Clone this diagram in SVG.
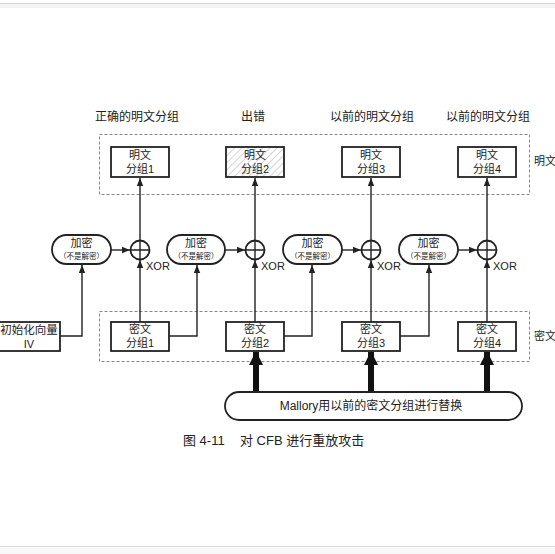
<svg xmlns="http://www.w3.org/2000/svg" width="555" height="554" viewBox="0 0 555 554">
<defs>
<style>
text{font-family:"Liberation Sans","Noto Sans CJK SC",sans-serif;fill:#222;}
.lbl{font-size:12px;text-anchor:middle;}
.box{fill:#fff;stroke:#222;stroke-width:1.8;}
.dash{fill:none;stroke:#888;stroke-width:1;stroke-dasharray:3,2;}
.ln{fill:none;stroke:#222;stroke-width:1.4;}
.bt{font-size:11px;text-anchor:middle;}
.sm{font-size:7.5px;}
.xor{font-size:11px;}
</style>
<marker id="ah" markerUnits="userSpaceOnUse" markerWidth="8" markerHeight="8" viewBox="0 0 8 8" refX="8" refY="4" orient="auto">
<path d="M0,0.8 L8,4 L0,7.2 Z" fill="#222"/>
</marker>
<marker id="big" markerUnits="userSpaceOnUse" markerWidth="14" markerHeight="14" viewBox="0 0 14 14" refX="13" refY="7" orient="auto">
<path d="M0,0 L14,7 L0,14 Z" fill="#111"/>
</marker>
<pattern id="hatch" patternUnits="userSpaceOnUse" width="5" height="5" patternTransform="rotate(45)">
<rect width="5" height="5" fill="#fff"/>
<line x1="0" y1="0" x2="0" y2="5" stroke="#aaa" stroke-width="1"/>
</pattern>
</defs>
<rect x="0" y="0" width="555" height="554" fill="#fff"/>
<rect x="0" y="3" width="555" height="5" fill="#f4f4f4"/>
<line x1="0" y1="3.5" x2="555" y2="3.5" stroke="#d8d8d8" stroke-width="1"/>
<rect x="0" y="546" width="555" height="8" fill="#f8f8f8"/>
<line x1="0" y1="546.5" x2="555" y2="546.5" stroke="#ddd" stroke-width="1"/>

<g id="labels">
<text class="lbl" x="137" y="121">正确的明文分组</text>
<text class="lbl" x="253" y="121">出错</text>
<text class="lbl" x="372" y="121">以前的明文分组</text>
<text class="lbl" x="488" y="121">以前的明文分组</text>
<text x="534" y="165" style="font-size:11px">明文</text>
<text x="534" y="340" style="font-size:11px">密文</text>
</g>

<rect id="plain-area" class="dash" x="99.5" y="134.5" width="430" height="60"/>
<rect id="cipher-area" class="dash" x="99.5" y="311.5" width="430" height="50"/>

<g id="connectors">
<line class="ln" x1="140" y1="240" x2="140" y2="178" marker-end="url(#ah)"/>
<line class="ln" x1="255" y1="240" x2="255" y2="178" marker-end="url(#ah)"/>
<line class="ln" x1="371" y1="240" x2="371" y2="178" marker-end="url(#ah)"/>
<line class="ln" x1="487" y1="240" x2="487" y2="178" marker-end="url(#ah)"/>
<line class="ln" x1="140" y1="322" x2="140" y2="260" marker-end="url(#ah)"/>
<line class="ln" x1="255" y1="322" x2="255" y2="260" marker-end="url(#ah)"/>
<line class="ln" x1="371" y1="322" x2="371" y2="260" marker-end="url(#ah)"/>
<line class="ln" x1="487" y1="322" x2="487" y2="260" marker-end="url(#ah)"/>
<line class="ln" x1="111" y1="250" x2="130" y2="250" marker-end="url(#ah)"/>
<line class="ln" x1="225" y1="250" x2="245" y2="250" marker-end="url(#ah)"/>
<line class="ln" x1="342" y1="250" x2="361" y2="250" marker-end="url(#ah)"/>
<line class="ln" x1="458" y1="250" x2="477" y2="250" marker-end="url(#ah)"/>
<polyline class="ln" points="60,336 82,336 82,265" marker-end="url(#ah)"/>
<polyline class="ln" points="169,336 197,336 197,265" marker-end="url(#ah)"/>
<polyline class="ln" points="284,336 312,336 312,265" marker-end="url(#ah)"/>
<polyline class="ln" points="400,336 429,336 429,265" marker-end="url(#ah)"/>
<line x1="256" y1="392" x2="256" y2="352" stroke="#111" stroke-width="6" marker-end="url(#big)"/>
<line x1="371" y1="392" x2="371" y2="352" stroke="#111" stroke-width="6" marker-end="url(#big)"/>
<line x1="487" y1="392" x2="487" y2="352" stroke="#111" stroke-width="6" marker-end="url(#big)"/>
</g>

<g id="p1"><rect class="box" x="111" y="147" width="58" height="30"/><text class="bt"><tspan x="140" y="159">明文</tspan><tspan x="140" y="173">分组1</tspan></text></g>
<g id="p2"><rect class="box" x="226" y="147" width="58" height="30" style="fill:url(#hatch)"/><text class="bt"><tspan x="255" y="159">明文</tspan><tspan x="255" y="173">分组2</tspan></text></g>
<g id="p3"><rect class="box" x="342" y="147" width="58" height="30"/><text class="bt"><tspan x="371" y="159">明文</tspan><tspan x="371" y="173">分组3</tspan></text></g>
<g id="p4"><rect class="box" x="458" y="147" width="58" height="30"/><text class="bt"><tspan x="487" y="159">明文</tspan><tspan x="487" y="173">分组4</tspan></text></g>

<g id="e1"><rect class="box" x="52" y="235" width="59" height="29" rx="14.5"/><text class="bt"><tspan x="81.5" y="247">加密</tspan><tspan class="sm" x="81.5" y="259">（不是解密）</tspan></text></g>
<g id="e2"><rect class="box" x="167" y="235" width="58" height="29" rx="14.5"/><text class="bt"><tspan x="196" y="247">加密</tspan><tspan class="sm" x="196" y="259">（不是解密）</tspan></text></g>
<g id="e3"><rect class="box" x="283" y="235" width="59" height="29" rx="14.5"/><text class="bt"><tspan x="312.5" y="247">加密</tspan><tspan class="sm" x="312.5" y="259">（不是解密）</tspan></text></g>
<g id="e4"><rect class="box" x="399" y="235" width="59" height="29" rx="14.5"/><text class="bt"><tspan x="428.5" y="247">加密</tspan><tspan class="sm" x="428.5" y="259">（不是解密）</tspan></text></g>

<g id="x1"><circle class="box" cx="140" cy="250" r="9.5"/><path class="ln" d="M130.5,250 H149.5 M140,240.5 V259.5"/><text class="xor" x="146" y="270">XOR</text></g>
<g id="x2"><circle class="box" cx="255" cy="250" r="9.5"/><path class="ln" d="M245.5,250 H264.5 M255,240.5 V259.5"/><text class="xor" x="261" y="270">XOR</text></g>
<g id="x3"><circle class="box" cx="371" cy="250" r="9.5"/><path class="ln" d="M361.5,250 H380.5 M371,240.5 V259.5"/><text class="xor" x="377" y="270">XOR</text></g>
<g id="x4"><circle class="box" cx="487" cy="250" r="9.5"/><path class="ln" d="M477.5,250 H496.5 M487,240.5 V259.5"/><text class="xor" x="493" y="270">XOR</text></g>

<g id="iv"><rect class="box" x="-3" y="322" width="63" height="29"/><text class="bt"><tspan x="29" y="334" style="font-size:11.5px">初始化向量</tspan><tspan x="29" y="348">IV</tspan></text></g>

<g id="c1"><rect class="box" x="111" y="322" width="58" height="29"/><text class="bt"><tspan x="140" y="333">密文</tspan><tspan x="140" y="347">分组1</tspan></text></g>
<g id="c2"><rect class="box" x="226" y="322" width="58" height="29"/><text class="bt"><tspan x="255" y="333">密文</tspan><tspan x="255" y="347">分组2</tspan></text></g>
<g id="c3"><rect class="box" x="342" y="322" width="58" height="29"/><text class="bt"><tspan x="371" y="333">密文</tspan><tspan x="371" y="347">分组3</tspan></text></g>
<g id="c4"><rect class="box" x="458" y="322" width="58" height="29"/><text class="bt"><tspan x="487" y="333">密文</tspan><tspan x="487" y="347">分组4</tspan></text></g>

<g id="mallory"><rect class="box" x="225" y="392" width="297" height="28" rx="14"/><text x="371" y="410" style="font-size:12px;text-anchor:middle">Mallory用以前的密文分组进行替换</text></g>

<g id="caption"><text x="183" y="445" style="font-size:13px">图 4-11</text><text x="240" y="445" style="font-size:13px">对 CFB 进行重放攻击</text></g>
</svg>
